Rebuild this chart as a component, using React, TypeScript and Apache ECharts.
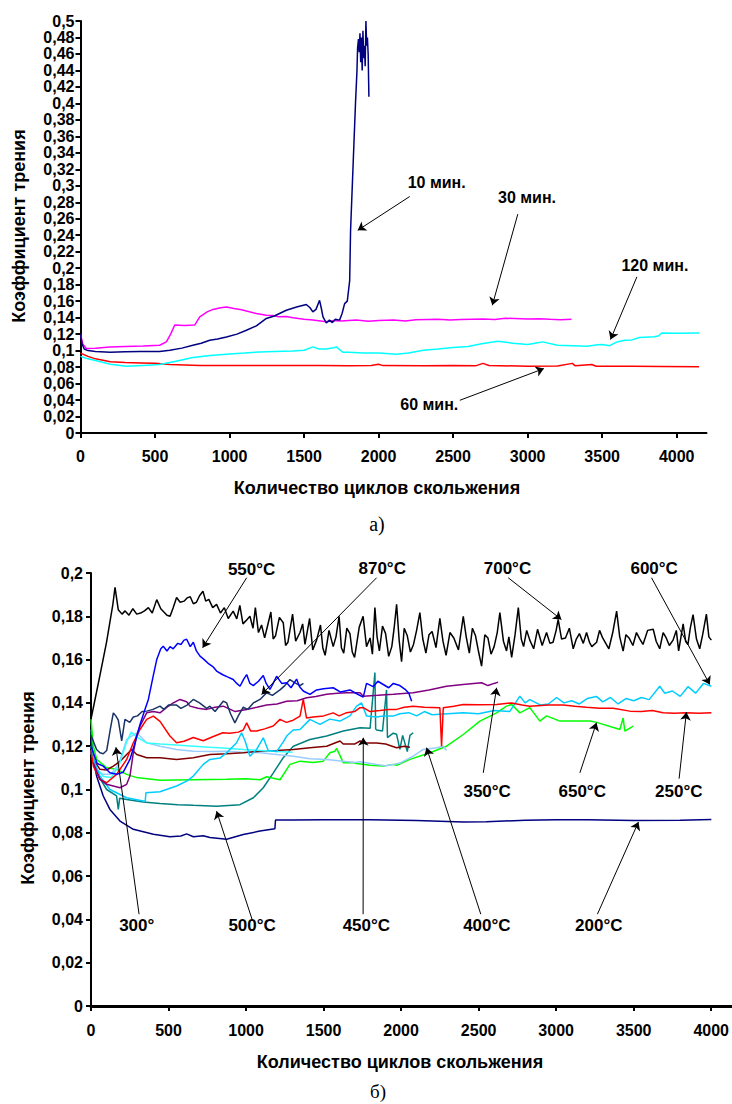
import React, { useEffect, useRef } from "react";
import * as echarts from "echarts";

// ---------- Chart a) ----------
const topXTicks = [0, 500, 1000, 1500, 2000, 2500, 3000, 3500, 4000];

const min10: number[][] = [
  [0, 0.12], [10, 0.108], [25, 0.102], [50, 0.1], [100, 0.099], [200, 0.098], [300, 0.0985], [400, 0.099],
  [531, 0.099], [600, 0.1005], [680, 0.103], [754, 0.1065], [810, 0.109], [867, 0.1126], [920, 0.114],
  [979, 0.1166], [1050, 0.12], [1113, 0.1247], [1180, 0.13], [1247, 0.139], [1300, 0.142], [1381, 0.149],
  [1450, 0.153], [1515, 0.156], [1540, 0.152], [1559, 0.147], [1580, 0.15], [1604, 0.161], [1615, 0.152],
  [1627, 0.141], [1649, 0.1336], [1670, 0.137], [1690, 0.134], [1710, 0.138], [1738, 0.137], [1755, 0.145],
  [1772, 0.157], [1790, 0.16], [1806, 0.185], [1812, 0.246], [1830, 0.33], [1845, 0.4], [1855, 0.44],
  [1859, 0.467], [1865, 0.478], [1870, 0.462], [1875, 0.485], [1880, 0.45], [1885, 0.48], [1890, 0.44],
  [1895, 0.488], [1900, 0.455], [1905, 0.47], [1910, 0.445], [1915, 0.5], [1920, 0.47], [1925, 0.48],
  [1930, 0.46], [1935, 0.408],
];

const min30: number[][] = [
  [0, 0.12], [15, 0.108], [39, 0.1025], [100, 0.103], [196, 0.1045], [300, 0.105], [420, 0.1055],
  [531, 0.1065], [576, 0.1105], [605, 0.12], [632, 0.131], [700, 0.1305], [766, 0.131], [800, 0.141],
  [850, 0.147], [889, 0.15], [940, 0.152], [979, 0.153], [1030, 0.151], [1080, 0.1495], [1113, 0.148],
  [1180, 0.145], [1247, 0.143], [1290, 0.1425], [1330, 0.141], [1380, 0.1415], [1425, 0.14], [1500, 0.138],
  [1559, 0.137], [1649, 0.135], [1700, 0.1365], [1750, 0.136], [1850, 0.137], [1930, 0.1355], [2000, 0.1365],
  [2100, 0.137], [2180, 0.136], [2250, 0.1375], [2400, 0.138], [2480, 0.1372], [2550, 0.1378],
  [2700, 0.1385], [2780, 0.1378], [2850, 0.1392], [3000, 0.1385], [3080, 0.1388], [3150, 0.138],
  [3220, 0.1375], [3294, 0.138],
];

const min120: number[][] = [
  [0, 0.093], [50, 0.09], [100, 0.088], [200, 0.0835], [308, 0.081], [420, 0.082], [531, 0.083],
  [640, 0.087], [754, 0.0915], [870, 0.094], [979, 0.0956], [1100, 0.097], [1203, 0.0984], [1300, 0.099],
  [1425, 0.0996], [1500, 0.1005], [1559, 0.1045], [1600, 0.102], [1649, 0.102], [1700, 0.1035],
  [1716, 0.1045], [1760, 0.098], [1800, 0.098], [1900, 0.097], [2000, 0.097], [2120, 0.0956],
  [2200, 0.097], [2300, 0.1004], [2400, 0.102], [2500, 0.1037], [2600, 0.105], [2700, 0.1086],
  [2800, 0.1114], [2900, 0.109], [3000, 0.1073], [3050, 0.109], [3100, 0.1106], [3200, 0.1065],
  [3300, 0.106], [3400, 0.1053], [3470, 0.107], [3500, 0.1073], [3550, 0.106], [3600, 0.1105],
  [3650, 0.1126], [3700, 0.113], [3750, 0.1159], [3850, 0.1167], [3880, 0.118], [3900, 0.1214],
  [4000, 0.121], [4150, 0.1214],
];

const min60: number[][] = [
  [0, 0.097], [50, 0.093], [100, 0.09], [200, 0.0865], [300, 0.0855], [400, 0.085], [500, 0.0845],
  [600, 0.083], [700, 0.0825], [800, 0.082], [1000, 0.0818], [1200, 0.082], [1400, 0.0818], [1600, 0.082],
  [1800, 0.0815], [1950, 0.082], [2000, 0.0835], [2030, 0.0818], [2300, 0.0815], [2500, 0.082],
  [2650, 0.0815], [2700, 0.0845], [2740, 0.082], [3000, 0.081], [3200, 0.0812], [3300, 0.0845],
  [3320, 0.0815], [3430, 0.0832], [3460, 0.081], [3700, 0.081], [3900, 0.0808], [4150, 0.0805],
];

const topLabels = [
  { name: "10 мин.", value: [2390, 0.304] },
  { name: "30 мин.", value: [2996, 0.286] },
  { name: "120 мин.", value: [3854, 0.2035] },
  { name: "60 мин.", value: [2340, 0.0345] },
];
const topArrows: number[][][] = [
  [[2209, 0.287], [1860, 0.246]],
  [[2934, 0.2656], [2763, 0.155]],
  [[3733, 0.1895], [3556, 0.1134]],
  [[2545, 0.0397], [3109, 0.0782]],
];

// ---------- Chart б) ----------
const botXTicks = [0, 500, 1000, 1500, 2000, 2500, 3000, 3500, 4000];

const t700: number[][] = [
  [0, 0.1325], [50, 0.15], [100, 0.168], [140, 0.185], [155, 0.1934], [176, 0.183], [200, 0.181], [220, 0.1825],
  [245, 0.1805], [270, 0.1835], [295, 0.181], [320, 0.1815], [345, 0.1825], [370, 0.184], [395, 0.1815],
  [424, 0.1877], [450, 0.1835], [470, 0.182], [490, 0.1805], [510, 0.18], [530, 0.184], [552, 0.1887],
  [575, 0.1865], [600, 0.187], [620, 0.1885], [640, 0.189], [660, 0.1858], [680, 0.1865], [700, 0.1895],
  [722, 0.1916], [740, 0.187], [760, 0.1878], [785, 0.184], [810, 0.1855], [835, 0.1815], [860, 0.184],
  [885, 0.179], [917, 0.1824], [940, 0.1788], [960, 0.185], [980, 0.1765], [1000, 0.178], [1025, 0.18],
  [1045, 0.1745], [1060, 0.184], [1080, 0.1725], [1100, 0.176], [1120, 0.17], [1133, 0.1739], [1160, 0.182],
  [1175, 0.1695], [1190, 0.171], [1215, 0.1795], [1240, 0.177], [1255, 0.1665], [1270, 0.168],
  [1300, 0.181], [1320, 0.1685], [1348, 0.1725], [1365, 0.1765], [1380, 0.167], [1410, 0.179],
  [1430, 0.1645], [1455, 0.169], [1480, 0.176], [1495, 0.1655], [1510, 0.162], [1535, 0.1735],
  [1562, 0.166], [1580, 0.1705], [1600, 0.18], [1615, 0.1655], [1630, 0.163], [1650, 0.1745],
  [1670, 0.172], [1685, 0.1635], [1700, 0.161], [1730, 0.175], [1755, 0.18], [1777, 0.166], [1800, 0.17],
  [1815, 0.1625], [1831, 0.184], [1845, 0.1705], [1860, 0.164], [1880, 0.1755], [1900, 0.172],
  [1920, 0.1615], [1940, 0.166], [1955, 0.1745], [1971, 0.1855], [1988, 0.1685], [2003, 0.159],
  [2020, 0.1745], [2040, 0.171], [2060, 0.1635], [2080, 0.167], [2100, 0.1735], [2121, 0.1817],
  [2140, 0.1695], [2160, 0.163], [2180, 0.1715], [2200, 0.173], [2225, 0.1655], [2250, 0.179],
  [2270, 0.1685], [2290, 0.162], [2315, 0.1725], [2340, 0.17], [2370, 0.1645], [2401, 0.18],
  [2420, 0.1705], [2440, 0.163], [2460, 0.1745], [2480, 0.171], [2500, 0.1635], [2519, 0.157],
  [2540, 0.1715], [2560, 0.17], [2580, 0.1625], [2600, 0.166], [2620, 0.1725], [2637, 0.1817],
  [2660, 0.1685], [2680, 0.164], [2695, 0.1705], [2713, 0.161], [2735, 0.1715], [2756, 0.184],
  [2775, 0.1695], [2790, 0.166], [2810, 0.1735], [2830, 0.169], [2855, 0.165], [2880, 0.174],
  [2910, 0.1665], [2938, 0.1725], [2960, 0.1675], [2980, 0.168], [3000, 0.1735], [3013, 0.1786],
  [3035, 0.1695], [3060, 0.17], [3085, 0.1745], [3110, 0.165], [3130, 0.1695], [3150, 0.172],
  [3175, 0.1675], [3196, 0.1725], [3215, 0.168], [3230, 0.166], [3261, 0.168], [3280, 0.1735],
  [3300, 0.17], [3320, 0.1675], [3340, 0.165], [3365, 0.1725], [3390, 0.1824], [3410, 0.1705],
  [3432, 0.1639], [3450, 0.1715], [3470, 0.17], [3495, 0.1665], [3518, 0.1725], [3540, 0.1695],
  [3560, 0.167], [3590, 0.1735], [3626, 0.174], [3645, 0.1685], [3668, 0.165], [3690, 0.1725],
  [3710, 0.17], [3730, 0.1665], [3754, 0.169], [3775, 0.1735], [3790, 0.164], [3805, 0.1705],
  [3819, 0.1765], [3835, 0.1685], [3850, 0.167], [3865, 0.1745], [3883, 0.1808], [3905, 0.1695],
  [3926, 0.165], [3945, 0.1715], [3969, 0.181], [3985, 0.1705], [4001, 0.169],
];

const t550: number[][] = [
  [0, 0.12], [15, 0.117], [40, 0.112], [79, 0.1108], [122, 0.1077], [165, 0.107], [208, 0.108],
  [251, 0.1139], [284, 0.1216], [316, 0.13], [348, 0.137], [370, 0.1416], [400, 0.152], [424, 0.16],
  [450, 0.165], [466, 0.1662], [490, 0.164], [510, 0.166], [530, 0.165], [560, 0.1675], [580, 0.167],
  [600, 0.169], [617, 0.1694], [640, 0.166], [660, 0.168], [680, 0.164], [703, 0.1616], [730, 0.16],
  [760, 0.158], [790, 0.1565], [810, 0.1547], [850, 0.153], [880, 0.152], [917, 0.1508], [940, 0.149],
  [961, 0.1477], [985, 0.151], [1004, 0.1531], [1025, 0.149], [1047, 0.148], [1080, 0.15], [1111, 0.1527],
  [1130, 0.149], [1154, 0.1462], [1175, 0.149], [1197, 0.1523], [1230, 0.149], [1262, 0.1493],
  [1290, 0.147], [1326, 0.151], [1345, 0.1475], [1369, 0.1455], [1412, 0.1439], [1455, 0.146],
  [1500, 0.1465], [1562, 0.147], [1610, 0.145], [1670, 0.146], [1720, 0.144], [1756, 0.1427],
  [1777, 0.149], [1820, 0.1475], [1850, 0.15], [1885, 0.1485], [1920, 0.147], [1950, 0.149],
  [1992, 0.148], [2030, 0.146], [2050, 0.1445], [2068, 0.1408],
];

const t870: number[][] = [
  [0, 0.125], [36, 0.1185], [58, 0.117], [79, 0.1165], [101, 0.118], [125, 0.128], [144, 0.1354],
  [160, 0.134], [176, 0.132], [198, 0.1225], [219, 0.1324], [250, 0.131], [273, 0.1335], [300, 0.134],
  [330, 0.136], [359, 0.1362], [400, 0.137], [445, 0.1385], [470, 0.137], [500, 0.139], [552, 0.139],
  [580, 0.1375], [620, 0.139], [660, 0.1416], [700, 0.14], [746, 0.1375], [767, 0.1385], [800, 0.136],
  [853, 0.1408], [875, 0.14], [900, 0.135], [928, 0.1308], [950, 0.134], [982, 0.138], [1010, 0.137],
  [1047, 0.14], [1090, 0.1416], [1133, 0.1447], [1170, 0.1435], [1219, 0.146], [1250, 0.148],
  [1283, 0.1508], [1310, 0.1495], [1348, 0.148], [1370, 0.149],
];

const t350: number[][] = [
  [15, 0.1124], [58, 0.1047], [101, 0.1024], [144, 0.1016], [187, 0.1008], [230, 0.1024], [251, 0.1062],
  [273, 0.117], [295, 0.125], [316, 0.1293], [359, 0.1354], [402, 0.136], [445, 0.1354], [490, 0.138],
  [531, 0.14], [574, 0.1416], [617, 0.1405], [638, 0.1385], [690, 0.1375], [746, 0.137], [800, 0.138],
  [853, 0.1385], [930, 0.136], [1004, 0.137], [1070, 0.138], [1133, 0.139], [1200, 0.1395],
  [1262, 0.1408], [1330, 0.141], [1391, 0.1424], [1450, 0.143], [1520, 0.144], [1590, 0.1445],
  [1649, 0.1447], [1735, 0.1447], [1756, 0.1431], [1850, 0.1435], [1950, 0.144], [2078, 0.1447],
  [2180, 0.146], [2293, 0.1477], [2400, 0.1485], [2519, 0.1493], [2560, 0.148], [2600, 0.149],
  [2626, 0.1496],
];

const t250: number[][] = [
  [0, 0.118], [15, 0.1108], [58, 0.1047], [101, 0.1031], [165, 0.107], [230, 0.1139], [273, 0.1216],
  [316, 0.1277], [359, 0.1324], [402, 0.1339], [445, 0.1315], [509, 0.1247], [552, 0.1216], [600, 0.1223],
  [660, 0.124], [724, 0.1225], [789, 0.1245], [850, 0.1262], [896, 0.126], [950, 0.1265], [982, 0.1275],
  [1004, 0.1308], [1030, 0.127], [1068, 0.127], [1120, 0.128], [1175, 0.1293], [1219, 0.1324],
  [1260, 0.131], [1304, 0.132], [1348, 0.1339], [1369, 0.1416], [1390, 0.133], [1433, 0.1335],
  [1500, 0.134], [1562, 0.1354], [1600, 0.134], [1649, 0.1355], [1700, 0.136], [1735, 0.1378],
  [1756, 0.1378], [1800, 0.136], [1863, 0.1365], [1920, 0.137], [1971, 0.137], [2020, 0.138],
  [2078, 0.1385], [2150, 0.138], [2250, 0.1378], [2261, 0.12], [2272, 0.1378], [2340, 0.1385],
  [2401, 0.1393], [2500, 0.1392], [2616, 0.1393], [2713, 0.14], [2780, 0.139], [2830, 0.1385],
  [2950, 0.139], [3046, 0.139], [3120, 0.1385], [3196, 0.138], [3280, 0.1375], [3368, 0.1375],
  [3475, 0.1362], [3550, 0.136], [3620, 0.1365], [3690, 0.1355], [3760, 0.1352], [3841, 0.1354],
  [3920, 0.1352], [4001, 0.1355],
];

const t300: number[][] = [
  [0, 0.118], [30, 0.11], [80, 0.106], [130, 0.1055], [180, 0.111], [230, 0.122], [260, 0.1265],
  [300, 0.124], [360, 0.1215], [445, 0.121], [552, 0.1205], [660, 0.12], [767, 0.1195], [875, 0.119],
  [982, 0.1185], [1090, 0.118], [1200, 0.1175], [1300, 0.1172],
];

const t400: number[][] = [
  [0, 0.117], [40, 0.109], [80, 0.107], [130, 0.107], [180, 0.112], [230, 0.1231], [295, 0.1262],
  [359, 0.1216], [445, 0.12], [552, 0.1185], [660, 0.1177], [770, 0.1175], [875, 0.1177], [980, 0.1172],
  [1090, 0.117], [1197, 0.1162], [1305, 0.1154], [1412, 0.1142], [1520, 0.1139], [1627, 0.1131],
  [1700, 0.1125], [1735, 0.1128], [1842, 0.1116], [1900, 0.111], [1949, 0.1116], [1992, 0.1122],
  [2078, 0.1154], [2143, 0.1185], [2229, 0.1193], [2272, 0.12], [2293, 0.118],
];

const t600: number[][] = [
  [0, 0.12], [20, 0.113], [58, 0.1062], [122, 0.1], [230, 0.0962], [337, 0.0947], [350, 0.0947],
  [354, 0.0985], [445, 0.099], [552, 0.1016], [620, 0.104], [660, 0.1062], [724, 0.1116], [767, 0.1139],
  [832, 0.1145], [875, 0.117], [939, 0.1216], [971, 0.1262], [993, 0.1225], [1025, 0.1154], [1068, 0.1185],
  [1111, 0.1239], [1143, 0.118], [1197, 0.1175], [1240, 0.122], [1262, 0.1247], [1304, 0.1275],
  [1348, 0.1277], [1412, 0.1324], [1477, 0.1301], [1540, 0.1325], [1606, 0.1316], [1670, 0.134],
  [1713, 0.1385], [1745, 0.14], [1777, 0.134], [1842, 0.1335], [1885, 0.134], [1949, 0.1339],
  [1992, 0.135], [2050, 0.1355], [2100, 0.134], [2150, 0.136], [2200, 0.1345], [2300, 0.135],
  [2400, 0.1355], [2500, 0.135], [2600, 0.1365], [2700, 0.136], [2766, 0.1431], [2800, 0.14],
  [2830, 0.1415], [2900, 0.139], [2950, 0.1395], [3003, 0.1425], [3050, 0.14], [3100, 0.141],
  [3150, 0.1395], [3200, 0.142], [3260, 0.143], [3300, 0.1405], [3350, 0.1425], [3400, 0.1395],
  [3450, 0.142], [3500, 0.141], [3550, 0.1425], [3600, 0.1415], [3668, 0.1477], [3700, 0.1445],
  [3750, 0.1455], [3800, 0.143], [3850, 0.1475], [3900, 0.1445], [3950, 0.149], [4001, 0.1477],
];

const t450: number[][] = [
  [0, 0.12], [15, 0.1139], [58, 0.1093], [101, 0.109], [144, 0.1108], [187, 0.113], [230, 0.1162],
  [262, 0.1185], [295, 0.1162], [359, 0.1147], [445, 0.1147], [552, 0.1139], [660, 0.1147], [767, 0.1162],
  [875, 0.1165], [982, 0.117], [1090, 0.1177], [1197, 0.118], [1305, 0.1185], [1412, 0.1193], [1520, 0.12],
  [1606, 0.1224], [1627, 0.121], [1700, 0.121], [1735, 0.1224], [1756, 0.1215], [1842, 0.1215],
  [1900, 0.121], [1971, 0.1193], [2020, 0.12], [2057, 0.1195],
];

const t500: number[][] = [
  [0, 0.1277], [10, 0.118], [36, 0.1077], [101, 0.1], [165, 0.097], [176, 0.0908], [185, 0.096],
  [230, 0.0954], [337, 0.0942], [445, 0.0935], [560, 0.093], [660, 0.0927], [810, 0.0923], [961, 0.093],
  [1047, 0.0962], [1111, 0.1008], [1176, 0.1077], [1240, 0.1147], [1305, 0.12], [1412, 0.1231],
  [1520, 0.1247], [1627, 0.127], [1735, 0.1285], [1800, 0.1283], [1831, 0.154], [1836, 0.128],
  [1842, 0.1275], [1880, 0.127], [1906, 0.146], [1912, 0.124], [1949, 0.126], [1971, 0.1255],
  [1992, 0.1185], [2010, 0.125], [2040, 0.1175], [2057, 0.125], [2078, 0.1262],
];

const t650: number[][] = [
  [0, 0.1325], [15, 0.12], [37, 0.1139], [101, 0.11], [166, 0.1093], [230, 0.107], [295, 0.1055],
  [445, 0.1043], [660, 0.1045], [875, 0.1047], [1000, 0.105], [1090, 0.1045], [1133, 0.1059],
  [1219, 0.1045], [1283, 0.1116], [1348, 0.1131], [1433, 0.1125], [1498, 0.1131], [1541, 0.117],
  [1573, 0.1177], [1584, 0.119], [1627, 0.1124], [1692, 0.1125], [1713, 0.112], [1800, 0.1112],
  [1885, 0.1108], [1949, 0.1116], [1971, 0.1112], [2057, 0.1139], [2186, 0.117], [2293, 0.12],
  [2401, 0.1254], [2508, 0.1316], [2616, 0.1354], [2680, 0.1385], [2713, 0.1393], [2766, 0.1354],
  [2830, 0.1378], [2895, 0.1316], [2938, 0.134], [3024, 0.1316], [3046, 0.1316], [3218, 0.1316],
  [3261, 0.131], [3411, 0.1277], [3432, 0.133], [3443, 0.127], [3497, 0.1293],
];

const t200: number[][] = [
  [0, 0.123], [20, 0.112], [37, 0.106], [79, 0.097], [122, 0.0908], [187, 0.0854], [273, 0.0816],
  [402, 0.0793], [509, 0.0782], [580, 0.0785], [617, 0.0795], [660, 0.0782], [724, 0.0786], [767, 0.0778],
  [875, 0.077], [982, 0.0792], [1090, 0.0808], [1186, 0.0819], [1190, 0.0859], [1300, 0.0859],
  [1500, 0.086], [1800, 0.086], [2100, 0.0857], [2400, 0.085], [2550, 0.0851], [2800, 0.0858],
  [3000, 0.086], [3200, 0.086], [3500, 0.0857], [3800, 0.0858], [4001, 0.0862],
];

const botLabels = [
  { name: "550°C", value: [1036, 0.2016] },
  { name: "870°C", value: [1878, 0.2019] },
  { name: "700°C", value: [2686, 0.2019] },
  { name: "600°C", value: [3632, 0.2019] },
  { name: "350°C", value: [2555, 0.0993] },
  { name: "650°C", value: [3168, 0.0993] },
  { name: "250°C", value: [3791, 0.0993] },
  { name: "300°", value: [295, 0.0373] },
  { name: "500°C", value: [1039, 0.0373] },
  { name: "450°C", value: [1776, 0.0373] },
  { name: "400°C", value: [2553, 0.0373] },
  { name: "200°C", value: [3275, 0.0373] },
];
const botArrows: number[][][] = [
  [[1004, 0.1978], [720, 0.1655]],
  [[1842, 0.1978], [1100, 0.1439]],
  [[2691, 0.1978], [3034, 0.1785]],
  [[3615, 0.1978], [3991, 0.1485]],
  [[2530, 0.1077], [2616, 0.147]],
  [[3153, 0.1077], [3260, 0.1308]],
  [[3793, 0.105], [3840, 0.1357]],
  [[310, 0.0424], [161, 0.1195]],
  [[1039, 0.04], [810, 0.09]],
  [[1755, 0.0424], [1756, 0.1239]],
  [[2514, 0.0424], [2164, 0.1193]],
  [[3266, 0.0424], [3531, 0.085]],
];

const SANS = '"Liberation Sans", Arial, sans-serif';
const SERIF = '"Liberation Serif", "Times New Roman", serif';

const fmtY = (v: number) => (v === 0 ? "0" : String(+v.toFixed(2)).replace(".", ","));
const fmtX = (v: number) => String(Math.round(v));

function lineSeries(data: number[][], color: string, idx: number, width = 1.5) {
  return {
    type: "line",
    xAxisIndex: idx,
    yAxisIndex: idx,
    data,
    symbol: "none",
    showSymbol: false,
    lineStyle: { color, width },
    itemStyle: { color },
    silent: true,
  };
}

function arrowSeries(arrows: number[][][], idx: number) {
  return {
    type: "lines",
    coordinateSystem: "cartesian2d",
    xAxisIndex: idx,
    yAxisIndex: idx,
    clip: false,
    silent: true,
    symbol: ["none", "arrow"],
    symbolSize: 8,
    lineStyle: { color: "#000", width: 1, opacity: 1, curveness: 0 },
    data: arrows.map((a) => ({ coords: a })),
    z: 10,
  };
}

function labelSeries(labels: { name: string; value: number[] }[], idx: number, size: number) {
  return {
    type: "scatter",
    xAxisIndex: idx,
    yAxisIndex: idx,
    clip: false,
    silent: true,
    symbolSize: 0,
    itemStyle: { opacity: 1, color: "#000" },
    data: labels,
    label: {
      show: true,
      position: "inside",
      formatter: (p: any) => p.name,
      color: "#000",
      opacity: 1,
      textBorderWidth: 0,
      fontWeight: "bold",
      fontSize: size,
      fontFamily: SANS,
    },
    z: 11,
  };
}

function xAxisCfg(idx: number, max: number, ticks: number[], lineW: number, margin: number) {
  return {
    gridIndex: idx,
    type: "value",
    min: 0,
    max,
    interval: 500,
    axisLine: { show: true, onZero: false, lineStyle: { color: "#000", width: lineW } },
    axisTick: { show: true, length: 5, inside: false, lineStyle: { color: "#000", width: 2 }, customValues: ticks },
    axisLabel: {
      customValues: ticks,
      formatter: fmtX,
      color: "#000",
      fontWeight: "bold",
      fontSize: 16,
      fontFamily: SANS,
      margin,
    },
    splitLine: { show: false },
  };
}

function yAxisCfg(idx: number, max: number, margin: number) {
  return {
    gridIndex: idx,
    type: "value",
    min: 0,
    max,
    interval: 0.02,
    axisLine: { show: true, lineStyle: { color: "#000", width: 2 } },
    axisTick: { show: true, length: 5, inside: false, lineStyle: { color: "#000", width: 2 } },
    axisLabel: {
      formatter: fmtY,
      color: "#000",
      fontWeight: "bold",
      fontSize: 16,
      fontFamily: SANS,
      margin,
    },
    splitLine: { show: false },
  };
}

export default function App() {
  const ref = useRef<HTMLDivElement>(null);
  useEffect(() => {
    const chart = echarts.init(ref.current!, null, { renderer: "svg" });
    const option: any = {
      animation: false,
      backgroundColor: "#fff",
      grid: [
        { left: 80.5, top: 21, width: 626, height: 412 },
        { left: 91, top: 573, width: 641, height: 433 },
      ],
      xAxis: [xAxisCfg(0, 4200, topXTicks, 2, 15), xAxisCfg(1, 4133, botXTicks, 3, 16)],
      yAxis: [yAxisCfg(0, 0.5, 6), yAxisCfg(1, 0.2, 8)],
      series: [
        lineSeries(min60, "#FF0000", 0),
        lineSeries(min120, "#00FFFF", 0),
        lineSeries(min30, "#FF00FF", 0),
        lineSeries(min10, "#000080", 0),
        arrowSeries(topArrows, 0),
        labelSeries(topLabels, 0, 16),

        lineSeries(t200, "#000080", 1),
        lineSeries(t500, "#008080", 1),
        lineSeries(t650, "#00FF00", 1),
        lineSeries(t400, "#99CCFF", 1),
        lineSeries(t450, "#800000", 1),
        lineSeries(t300, "#33FFFF", 1),
        lineSeries(t600, "#00CCFF", 1),
        lineSeries(t250, "#FF0000", 1),
        lineSeries(t350, "#800080", 1),
        lineSeries(t870, "#1A3366", 1),
        lineSeries(t550, "#0000FF", 1),
        lineSeries(t700, "#000000", 1),
        arrowSeries(botArrows, 1),
        labelSeries(botLabels, 1, 17),
      ],
      graphic: [
        {
          type: "text",
          x: 377,
          y: 488,
          style: { text: "Количество циклов скольжения", font: `bold 18px ${SANS}`, fill: "#000", align: "center", verticalAlign: "middle" },
        },
        {
          type: "text",
          x: 400,
          y: 1062,
          style: { text: "Количество циклов скольжения", font: `bold 18px ${SANS}`, fill: "#000", align: "center", verticalAlign: "middle" },
        },
        {
          type: "text",
          x: 19,
          y: 226,
          rotation: Math.PI / 2,
          style: { text: "Коэффициент трения", font: `bold 18px ${SANS}`, fill: "#000", align: "center", verticalAlign: "middle" },
        },
        {
          type: "text",
          x: 28,
          y: 788,
          rotation: Math.PI / 2,
          style: { text: "Коэффициент трения", font: `bold 18px ${SANS}`, fill: "#000", align: "center", verticalAlign: "middle" },
        },
        {
          type: "text",
          x: 377,
          y: 524,
          style: { text: "а)", font: `20px ${SERIF}`, fill: "#000", align: "center", verticalAlign: "middle" },
        },
        {
          type: "text",
          x: 378,
          y: 1091,
          style: { text: "б)", font: `19px ${SERIF}`, fill: "#000", align: "center", verticalAlign: "middle" },
        },
      ],
    };
    chart.setOption(option);
    return () => chart.dispose();
  }, []);
  return (
    <div
      ref={ref}
      style={{ position: "fixed", left: 0, top: 0, width: 732, height: 1104, background: "#fff" }}
    />
  );
}
